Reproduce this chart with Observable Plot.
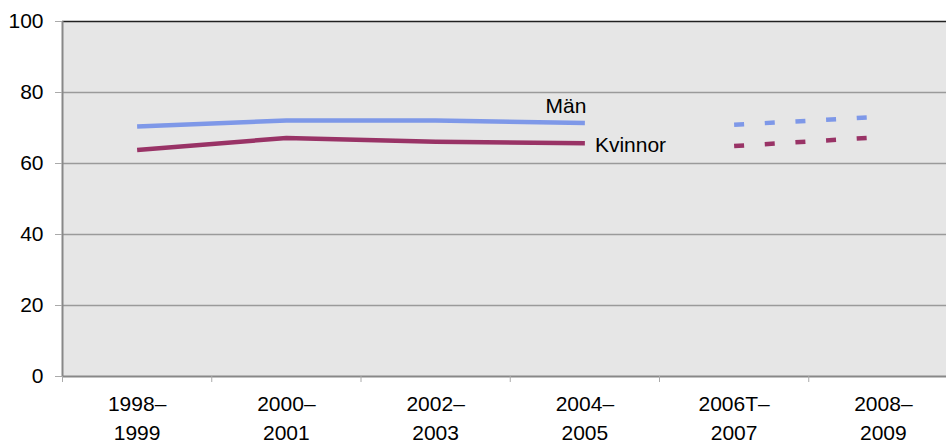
<!DOCTYPE html>
<html>
<head>
<meta charset="utf-8">
<script src="https://cdn.jsdelivr.net/npm/d3@7"></script>
<script src="https://cdn.jsdelivr.net/npm/@observablehq/plot@0.6"></script>
<style>
  html, body { margin: 0; padding: 0; background: #fff; }
</style>
</head>
<body>
<div id="chart"></div>
<script>
// Categories (periods) and series values
const periods = ["1998–\n1999", "2000–\n2001", "2002–\n2003", "2004–\n2005", "2006T–\n2007", "2008–\n2009"];
const men = [70.4, 72.1, 72.1, 71.4, 70.9, 73.2];
const women = [63.8, 67.2, 66.1, 65.7, 64.9, 67.5];
const seriesNames = ["Män", "Kvinnor"];
const yTicks = [0, 20, 40, 60, 80, 100];
// periods drawn as a solid line (observed) vs dashed (new series)
const solidIdx = [0, 1, 2, 3];
const dashedIdx = [4, 5];

const colors = { "Män": "#7e98e8", "Kvinnor": "#993366" };

const rows = [];
[men, women].forEach((vals, s) => {
  vals.forEach((v, i) => rows.push({ i, value: v, series: seriesNames[s] }));
});

const boundaries = d3.range(periods.length).map(i => i - 0.5);

const plot = Plot.plot({
  width: 946,
  height: 443,
  marginTop: 21,
  marginBottom: 67,
  marginLeft: 62,
  marginRight: 0,
  style: { fontFamily: "'Liberation Sans', Arial, sans-serif", fontSize: "21px", color: "#000", background: "#fff" },
  x: { type: "linear", domain: [-0.5, periods.length - 0.5], range: [62, 957.5] },
  y: { domain: [0, 100] },
  marks: [
    Plot.frame({ fill: "#e6e6e6", stroke: null }),
    Plot.ruleY(yTicks.filter(t => t > 0 && t < 100), { stroke: "#9a9a9a", strokeWidth: 1.3 }),
    Plot.ruleY([100], { stroke: "#222", strokeWidth: 1.6 }),
    Plot.ruleY([0], { stroke: "#888", strokeWidth: 2 }),
    Plot.ruleX([-0.5], { stroke: "#888", strokeWidth: 2 }),
    Plot.axisY({ ticks: yTicks, tickSize: 7, tickPadding: 12, stroke: "#aaa", fill: "#000", label: null, fontSize: 21 }),
    Plot.axisX({ ticks: boundaries, tickSize: 6, tickFormat: () => "", stroke: "#aaa", label: null }),
    Plot.axisX({ ticks: d3.range(periods.length), tickSize: 0, tickPadding: 14, tickFormat: i => periods[i], lineHeight: 1.37, fill: "#000", label: null, fontSize: 21 }),
    Plot.line(rows.filter(d => solidIdx.includes(d.i)), {
      x: "i", y: "value", z: "series", stroke: d => colors[d.series],
      strokeWidth: 4.5, strokeLinecap: "butt", strokeLinejoin: "round"
    }),
    Plot.line(rows.filter(d => dashedIdx.includes(d.i)), {
      x: "i", y: "value", z: "series", stroke: d => colors[d.series],
      strokeWidth: 4.5, strokeLinecap: "butt", strokeDasharray: "10,20.7"
    }),
    Plot.text(rows.filter(d => d.i === 3 && d.series === "Män"), {
      x: "i", y: "value", text: "series", dx: -19, dy: -17, textAnchor: "middle", fill: "#000", fontSize: 21
    }),
    Plot.text(rows.filter(d => d.i === 3 && d.series === "Kvinnor"), {
      x: "i", y: "value", text: "series", dx: 10, dy: 2, textAnchor: "start", fill: "#000", fontSize: 21
    })
  ]
});

document.getElementById("chart").appendChild(plot);
</script>
</body>
</html>
